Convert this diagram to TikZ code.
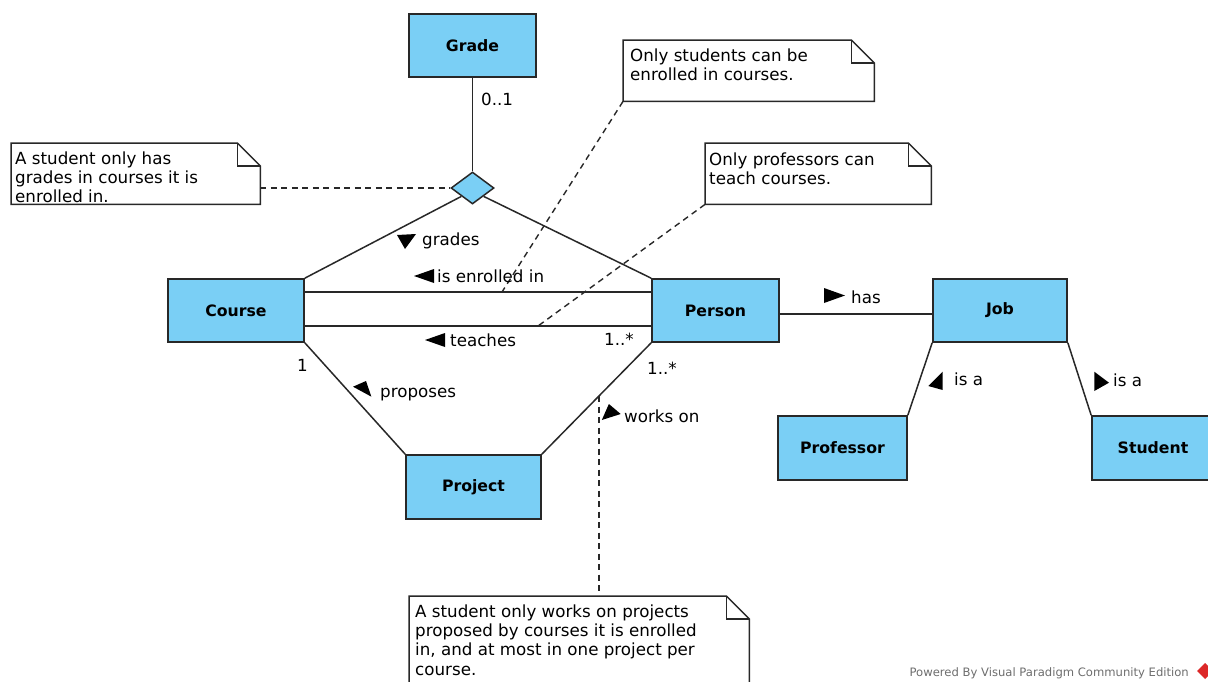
\documentclass[tikz,border=0pt]{standalone}
\usepackage{fontspec}
\setmainfont{DejaVu Sans}
\usetikzlibrary{shapes.geometric,calc}
\definecolor{clsfill}{RGB}{122,207,245}
\definecolor{linec}{RGB}{40,40,40}
\definecolor{footc}{RGB}{110,110,110}
\definecolor{logoc}{RGB}{220,40,40}
\newcommand\drawnote[1]{%
  \draw[linec, line width=1.5pt, fill=white] (#1.north west) -- ([xshift=-23pt]#1.north east) -- ([yshift=-23pt]#1.north east) -- (#1.south east) -- (#1.south west) -- cycle;
  \draw[linec, line width=1.5pt] ([xshift=-23pt]#1.north east) -- ([xshift=-23pt,yshift=-23pt]#1.north east) -- ([yshift=-23pt]#1.north east);}
\begin{document}
\begin{tikzpicture}[x=1pt,y=-1pt,
  cls/.style={draw=linec, fill=clsfill, line width=1.7pt, font=\fontsize{15.7}{18}\selectfont\bfseries, inner sep=0pt},
  conn/.style={draw=linec, line width=1.5pt},
  anchorline/.style={draw=linec, line width=1.4pt, dash pattern=on 6pt off 4.5pt},
  lbl/.style={font=\fontsize{16.7}{19.3}\selectfont, inner sep=0pt, anchor=base west},
  notetxt/.style={font=\fontsize{16.7}{19.3}\selectfont, inner sep=0pt, anchor=north west, align=left},
  notebox/.style={draw=none, inner sep=0pt, anchor=north west},
  tri/.style={fill=black}
]
\clip (0,0) rectangle (1208,681);
\fill[white] (0,0) rectangle (1208,681);

% notes
\node[notebox, minimum width=249pt, minimum height=61pt] (n1) at (11,143) {};
\node[notebox, minimum width=251pt, minimum height=61pt] (n2) at (623,40) {};
\node[notebox, minimum width=226pt, minimum height=61pt] (n3) at (705,143) {};
\node[notebox, minimum width=340pt, minimum height=100pt] (n4) at (409,596) {};
\drawnote{n1}
\drawnote{n2}
\drawnote{n3}
\drawnote{n4}
\node[notetxt] (n1t) at (15,151.5) {A student only has\\grades in courses it is\\enrolled in.};
\node[notetxt] (n2t) at (630,48.2) {Only students can be\\enrolled in courses.};
\node[notetxt] (n3t) at (709,152.5) {Only professors can\\teach courses.};
\node[notetxt] (n4t) at (415,604.5) {A student only works on projects\\proposed by courses it is enrolled\\in, and at most in one project per\\course.};

% classes
\node[cls, minimum width=127pt, minimum height=63pt] (grade) at (472.5,45.5) {Grade};
\node[cls, minimum width=136pt, minimum height=63pt] (course) at (236,310.5) {Course};
\node[cls, minimum width=127pt, minimum height=63pt] (person) at (715.5,310.5) {Person};
\node[cls, minimum width=134pt, minimum height=63pt] (job) at (1000,310.5) {Job};
\node[cls, minimum width=129pt, minimum height=64pt] (prof) at (842.5,448) {Professor};
\node[cls, minimum width=122pt, minimum height=64pt] (student) at (1153,448) {Student};
\node[cls, minimum width=135pt, minimum height=64pt] (project) at (473.5,487) {Project};
\node[diamond, draw=linec, fill=clsfill, line width=1.5pt, minimum width=43pt, minimum height=32pt, inner sep=0pt] (dia) at (472.5,188) {};

% connectors
\draw[conn] (grade.south) -- (dia.north);
\draw[conn] ($(dia.west)!0.5!(dia.south)$) -- (course.north east);
\draw[conn] ($(dia.east)!0.5!(dia.south)$) -- (person.north west);
\draw[conn] ([yshift=18.5pt]course.east) -- ([yshift=18.5pt]person.west);
\draw[conn] ([yshift=-15.5pt]course.east) -- ([yshift=-15.5pt]person.west);
\draw[conn] (course.south east) -- (project.north west);
\draw[conn] (person.south west) -- (project.north east);
\draw[conn] ([yshift=-3.5pt]person.east) -- ([yshift=-3.5pt]job.west);
\draw[conn] (job.south west) -- (prof.north east);
\draw[conn] (job.south east) -- (student.north west);

% note anchors
\coordinate (enr) at (502,292);
\coordinate (tch) at (538,326);
\coordinate (wk) at ($(person.south west)!0.4775!(project.north east)$);
\draw[anchorline] (n1.east |- dia.west) -- (dia.west);
\draw[anchorline] (n2.south west) -- (enr);
\draw[anchorline] (n3.south west) -- (tch);
\draw[anchorline] (wk) -- (wk |- n4.north);

% labels
\node[lbl] (m01) at (481,105) {0..1};
\node[lbl] (lgr) at (422,245) {grades};
\node[lbl] (lenr) at (437,282) {is enrolled in};
\node[lbl] (ltch) at (450,346) {teaches};
\node[lbl] (m1a) at (604,345) {1..*};
\node[lbl] (m1b) at (647,374) {1..*};
\node[lbl] (m1) at (297,371) {1};
\node[lbl] (lpro) at (380,397) {proposes};
\node[lbl] (lwk) at (624,422) {works on};
\node[lbl] (lhas) at (851,303) {has};
\node[lbl] (lisa1) at (954,385) {is a};
\node[lbl] (lisa2) at (1113,386) {is a};

% direction triangles
\fill[tri] (397,235) -- (416,234) -- (405,249) -- cycle;
\fill[tri] (434,269) -- (434,283) -- (414,276) -- cycle;
\fill[tri] (445,333) -- (445,347) -- (425,340) -- cycle;
\fill[tri] (353,386.7) -- (366,381) -- (371.4,396.7) -- cycle;
\fill[tri] (601.8,420) -- (608.9,404) -- (620.7,414) -- cycle;
\fill[tri] (824,288) -- (824,303) -- (845,295.5) -- cycle;
\fill[tri] (942.7,371.7) -- (942.7,390) -- (928.3,386) -- cycle;
\fill[tri] (1094.3,371.7) -- (1094.3,391) -- (1109,382.7) -- cycle;

% footer
\node[font=\fontsize{11.6}{13}\selectfont, text=footc, inner sep=0pt, anchor=base east] (foot) at (1189,676) {Powered By Visual Paradigm Community Edition};
\fill[logoc] (1197,671) -- (1205,663) -- (1213,671) -- (1205,679) -- cycle;
\end{tikzpicture}
\end{document}
